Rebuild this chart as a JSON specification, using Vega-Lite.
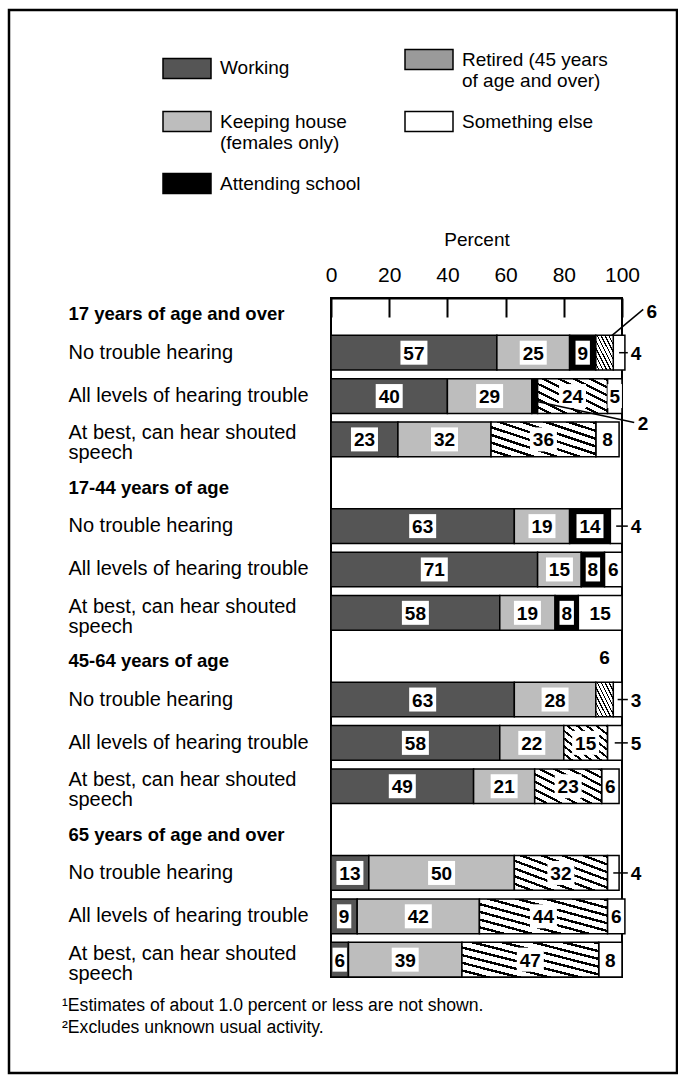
{
  "$schema": "https://vega.github.io/schema/vega-lite/v6.json",
  "width": 668,
  "height": 1063,
  "autosize": "none",
  "padding": {"left": 9, "top": 10, "right": 1, "bottom": 3},
  "background": "white",
  "view": {"stroke": "black", "strokeWidth": 2.5, "fill": "white"},
  "config": {"font": "Liberation Sans"},
  "title": {
    "text": ["¹Estimates of about 1.0 percent or less are not shown.", "²Excludes unknown usual activity."],
    "orient": "bottom", "anchor": "start", "frame": "group", "offset": -76, "dx": 53,
    "fontSize": 17.6, "fontWeight": "normal", "lineHeight": 22, "baseline": "top", "color": "black"
  },
  "resolve": {"scale": {"y": "independent"}},
  "layer": [
    {
      "data": {"values": [{}]},
      "mark": {"type": "rect", "filled": false, "stroke": "black", "strokeWidth": 2},
      "encoding": {
        "x": {"datum": 0, "type": "quantitative"},
        "x2": {"datum": 100},
        "y": {"datum": 0, "type": "quantitative", "scale": {"domain": [0, 1], "range": [288, 967], "nice": false, "zero": false}, "axis": null},
        "y2": {"datum": 1}
      }
    },
    {
      "data": {"values": [
        {"row": "17+ | No trouble hearing", "activity": "Working", "value": 57, "inside": true},
        {"row": "17+ | No trouble hearing", "activity": "Keeping house (females only)", "value": 25, "inside": true},
        {"row": "17+ | No trouble hearing", "activity": "Attending school", "value": 9, "inside": true},
        {"row": "17+ | No trouble hearing", "activity": "Retired (45 years of age and over)", "value": 6, "inside": false},
        {"row": "17+ | No trouble hearing", "activity": "Something else", "value": 4, "inside": false},
        {"row": "17+ | All levels of hearing trouble", "activity": "Working", "value": 40, "inside": true},
        {"row": "17+ | All levels of hearing trouble", "activity": "Keeping house (females only)", "value": 29, "inside": true},
        {"row": "17+ | All levels of hearing trouble", "activity": "Attending school", "value": 2, "inside": false},
        {"row": "17+ | All levels of hearing trouble", "activity": "Retired (45 years of age and over)", "value": 24, "inside": true},
        {"row": "17+ | All levels of hearing trouble", "activity": "Something else", "value": 5, "inside": true},
        {"row": "17+ | At best, can hear shouted speech", "activity": "Working", "value": 23, "inside": true},
        {"row": "17+ | At best, can hear shouted speech", "activity": "Keeping house (females only)", "value": 32, "inside": true},
        {"row": "17+ | At best, can hear shouted speech", "activity": "Retired (45 years of age and over)", "value": 36, "inside": true},
        {"row": "17+ | At best, can hear shouted speech", "activity": "Something else", "value": 8, "inside": true},
        {"row": "17-44 | No trouble hearing", "activity": "Working", "value": 63, "inside": true},
        {"row": "17-44 | No trouble hearing", "activity": "Keeping house (females only)", "value": 19, "inside": true},
        {"row": "17-44 | No trouble hearing", "activity": "Attending school", "value": 14, "inside": true},
        {"row": "17-44 | No trouble hearing", "activity": "Something else", "value": 4, "inside": false},
        {"row": "17-44 | All levels of hearing trouble", "activity": "Working", "value": 71, "inside": true},
        {"row": "17-44 | All levels of hearing trouble", "activity": "Keeping house (females only)", "value": 15, "inside": true},
        {"row": "17-44 | All levels of hearing trouble", "activity": "Attending school", "value": 8, "inside": true},
        {"row": "17-44 | All levels of hearing trouble", "activity": "Something else", "value": 6, "inside": true},
        {"row": "17-44 | At best, can hear shouted speech", "activity": "Working", "value": 58, "inside": true},
        {"row": "17-44 | At best, can hear shouted speech", "activity": "Keeping house (females only)", "value": 19, "inside": true},
        {"row": "17-44 | At best, can hear shouted speech", "activity": "Attending school", "value": 8, "inside": true},
        {"row": "17-44 | At best, can hear shouted speech", "activity": "Something else", "value": 15, "inside": true},
        {"row": "45-64 | No trouble hearing", "activity": "Working", "value": 63, "inside": true},
        {"row": "45-64 | No trouble hearing", "activity": "Keeping house (females only)", "value": 28, "inside": true},
        {"row": "45-64 | No trouble hearing", "activity": "Retired (45 years of age and over)", "value": 6, "inside": false},
        {"row": "45-64 | No trouble hearing", "activity": "Something else", "value": 3, "inside": false},
        {"row": "45-64 | All levels of hearing trouble", "activity": "Working", "value": 58, "inside": true},
        {"row": "45-64 | All levels of hearing trouble", "activity": "Keeping house (females only)", "value": 22, "inside": true},
        {"row": "45-64 | All levels of hearing trouble", "activity": "Retired (45 years of age and over)", "value": 15, "inside": true},
        {"row": "45-64 | All levels of hearing trouble", "activity": "Something else", "value": 5, "inside": false},
        {"row": "45-64 | At best, can hear shouted speech", "activity": "Working", "value": 49, "inside": true},
        {"row": "45-64 | At best, can hear shouted speech", "activity": "Keeping house (females only)", "value": 21, "inside": true},
        {"row": "45-64 | At best, can hear shouted speech", "activity": "Retired (45 years of age and over)", "value": 23, "inside": true},
        {"row": "45-64 | At best, can hear shouted speech", "activity": "Something else", "value": 6, "inside": true},
        {"row": "65+ | No trouble hearing", "activity": "Working", "value": 13, "inside": true},
        {"row": "65+ | No trouble hearing", "activity": "Keeping house (females only)", "value": 50, "inside": true},
        {"row": "65+ | No trouble hearing", "activity": "Retired (45 years of age and over)", "value": 32, "inside": true},
        {"row": "65+ | No trouble hearing", "activity": "Something else", "value": 4, "inside": false},
        {"row": "65+ | All levels of hearing trouble", "activity": "Working", "value": 9, "inside": true},
        {"row": "65+ | All levels of hearing trouble", "activity": "Keeping house (females only)", "value": 42, "inside": true},
        {"row": "65+ | All levels of hearing trouble", "activity": "Retired (45 years of age and over)", "value": 44, "inside": true},
        {"row": "65+ | All levels of hearing trouble", "activity": "Something else", "value": 6, "inside": true},
        {"row": "65+ | At best, can hear shouted speech", "activity": "Working", "value": 6, "inside": true},
        {"row": "65+ | At best, can hear shouted speech", "activity": "Keeping house (females only)", "value": 39, "inside": true},
        {"row": "65+ | At best, can hear shouted speech", "activity": "Retired (45 years of age and over)", "value": 47, "inside": true},
        {"row": "65+ | At best, can hear shouted speech", "activity": "Something else", "value": 8, "inside": true}
      ]},
      "transform": [
        {"calculate": "indexof(['Working','Keeping house (females only)','Attending school','Retired (45 years of age and over)','Something else'], datum.activity)", "as": "ord"},
        {"stack": "value", "groupby": ["row"], "sort": [{"field": "ord", "order": "ascending"}], "as": ["x0", "x1"]},
        {"calculate": "(datum.x0 + datum.x1) / 2", "as": "mid"}
      ],
      "encoding": {
        "y": {
          "field": "row", "type": "nominal",
          "scale": {
            "domain": [
              "17 years of age and over",
              "17+ | No trouble hearing",
              "17+ | All levels of hearing trouble",
              "17+ | At best, can hear shouted speech",
              "17-44 years of age",
              "17-44 | No trouble hearing",
              "17-44 | All levels of hearing trouble",
              "17-44 | At best, can hear shouted speech",
              "45-64 years of age",
              "45-64 | No trouble hearing",
              "45-64 | All levels of hearing trouble",
              "45-64 | At best, can hear shouted speech",
              "65 years of age and over",
              "65+ | No trouble hearing",
              "65+ | All levels of hearing trouble",
              "65+ | At best, can hear shouted speech"
            ],
            "range": [282, 967], "paddingInner": 0.2, "paddingOuter": 0
          },
          "axis": {
            "orient": "left", "offset": -322, "domain": false, "ticks": false, "tickSize": 0, "grid": false,
            "title": null, "labelAlign": "left", "labelPadding": 263,
            "labelColor": "black", "labelLimit": 400, "labelLineHeight": 20, "labelOverlap": false,
            "labelExpr": "indexof(datum.value, ' | ') < 0 ? datum.value : indexof(datum.value, 'At best') >= 0 ? ['\u2003At best, can hear shouted', '\u2003speech'] : substring(datum.value, indexof(datum.value, ' | ') + 3)",
            "labelFontWeight": {"condition": {"test": "indexof(datum.value, ' | ') < 0", "value": "bold"}, "value": "normal"},
            "labelFontSize": {"condition": {"test": "indexof(datum.value, ' | ') < 0", "value": 18.5}, "value": 20},
            "labelOffset": {"condition": {"test": "indexof(datum.value, ' | ') < 0", "value": 5}, "value": 0},
            "labelBaseline": {"condition": {"test": "indexof(datum.value, 'At best') >= 0", "value": "alphabetic"}, "value": "middle"}
          }
        }
      },
      "layer": [
        {
          "transform": [{"filter": "datum.activity != 'Retired (45 years of age and over)'"}],
          "mark": {"type": "bar", "stroke": "black", "strokeWidth": 1.5},
          "encoding": {
            "x": {
              "field": "x0", "type": "quantitative",
              "scale": {"domain": [0, 100], "range": [322, 613], "nice": false, "zero": false},
              "axis": {
                "orient": "top", "offset": -288, "values": [0, 20, 40, 60, 80, 100],
                "domain": true, "domainColor": "black", "domainWidth": 2,
                "ticks": true, "tickSize": -19, "tickWidth": 2, "tickColor": "black",
                "labelFontSize": 21, "labelColor": "black", "labelPadding": 32, "labelFlush": false, "labelAngle": 0,
                "grid": false, "title": "Percent", "titleFontSize": 19, "titleFontWeight": "normal", "titleColor": "black", "titlePadding": 15
              }
            },
            "x2": {"field": "x1"},
            "color": {
              "field": "activity", "type": "nominal",
              "scale": {
                "domain": ["Working", "Keeping house (females only)", "Attending school", "Retired (45 years of age and over)", "Something else"],
                "range": ["#555555", "#bdbdbd", "black", "#9a9a9a", "white"]
              },
              "legend": {
                "orient": "none", "legendX": 153, "legendY": 24.5, "title": null, "columns": 2,
                "columnPadding": 41, "rowPadding": 6, "padding": 0,
                "symbolType": "M-1,-0.417H1V0.417H-1Z", "symbolSize": 2304,
                "symbolOpacity": 1,
                "labelFontSize": 19, "labelColor": "black", "labelOffset": 8, "labelLimit": 300, "labelLineHeight": 22,
                "labelExpr": "datum.label == 'Keeping house (females only)' ? ['Keeping house', '(females only)'] : datum.label == 'Retired (45 years of age and over)' ? ['Retired (45 years', 'of age and over)'] : datum.label",
                "encode": {
                  "symbols": {
                    "stroke": {"value": "black"},
                    "strokeWidth": {"value": 1.5}
                  }
                }
              }
            }
          }
        },
        {
          "transform": [{"filter": "datum.activity == 'Retired (45 years of age and over)'"}],
          "mark": {
            "type": "bar", "stroke": "black", "strokeWidth": 1.5,
            "fill": {"gradient": "linear", "x1": 0, "y1": 1, "x2": 1, "y2": 0, "stops": [
              {"offset": 0, "color": "white"}, {"offset": 0.0756, "color": "white"}, {"offset": 0.0756, "color": "black"}, {"offset": 0.1111, "color": "black"},
              {"offset": 0.1111, "color": "white"}, {"offset": 0.1867, "color": "white"}, {"offset": 0.1867, "color": "black"}, {"offset": 0.2222, "color": "black"},
              {"offset": 0.2222, "color": "white"}, {"offset": 0.2978, "color": "white"}, {"offset": 0.2978, "color": "black"}, {"offset": 0.3333, "color": "black"},
              {"offset": 0.3333, "color": "white"}, {"offset": 0.4089, "color": "white"}, {"offset": 0.4089, "color": "black"}, {"offset": 0.4444, "color": "black"},
              {"offset": 0.4444, "color": "white"}, {"offset": 0.52, "color": "white"}, {"offset": 0.52, "color": "black"}, {"offset": 0.5556, "color": "black"},
              {"offset": 0.5556, "color": "white"}, {"offset": 0.6311, "color": "white"}, {"offset": 0.6311, "color": "black"}, {"offset": 0.6667, "color": "black"},
              {"offset": 0.6667, "color": "white"}, {"offset": 0.7422, "color": "white"}, {"offset": 0.7422, "color": "black"}, {"offset": 0.7778, "color": "black"},
              {"offset": 0.7778, "color": "white"}, {"offset": 0.8533, "color": "white"}, {"offset": 0.8533, "color": "black"}, {"offset": 0.8889, "color": "black"},
              {"offset": 0.8889, "color": "white"}, {"offset": 0.9644, "color": "white"}, {"offset": 0.9644, "color": "black"}, {"offset": 1, "color": "black"}
            ]}
          },
          "encoding": {"x": {"field": "x0", "type": "quantitative"}, "x2": {"field": "x1"}}
        },
        {
          "transform": [{"filter": "datum.inside && datum.value >= 10"}],
          "mark": {"type": "point", "shape": "M-1.125,-1H1.125V1H-1.125Z", "filled": true, "color": "white", "opacity": 1, "size": 576, "strokeWidth": 0},
          "encoding": {"x": {"field": "mid", "type": "quantitative"}}
        },
        {
          "transform": [{"filter": "datum.inside && datum.value < 10"}],
          "mark": {"type": "point", "shape": "M-0.6,-1H0.6V1H-0.6Z", "filled": true, "color": "white", "opacity": 1, "size": 576, "strokeWidth": 0},
          "encoding": {"x": {"field": "mid", "type": "quantitative"}}
        },
        {
          "transform": [{"filter": "datum.inside"}],
          "mark": {"type": "text", "fontSize": 19, "fontWeight": "bold", "color": "black", "align": "center", "baseline": "middle", "dy": 1},
          "encoding": {"x": {"field": "mid", "type": "quantitative"}, "text": {"field": "value", "type": "quantitative"}}
        },
        {
          "transform": [{"filter": "!datum.inside && datum.activity == 'Something else'"}],
          "mark": {"type": "rule", "color": "black", "strokeWidth": 1.5},
          "encoding": {"x": {"field": "mid", "type": "quantitative"}, "x2": {"datum": 102.0}}
        },
        {
          "transform": [{"filter": "!datum.inside && datum.activity == 'Something else'"}],
          "mark": {"type": "text", "fontSize": 19, "fontWeight": "bold", "color": "black", "align": "left", "baseline": "middle", "dy": 1},
          "encoding": {"x": {"datum": 103.0, "type": "quantitative"}, "text": {"field": "value", "type": "quantitative"}}
        },
        {
          "data": {"values": [{}]},
          "mark": {"type": "rule", "color": "black", "strokeWidth": 1.5, "yOffset": -17},
          "encoding": {
            "x": {"datum": 96.5, "type": "quantitative"}, "x2": {"datum": 107.3},
            "y": {"datum": "17+ | No trouble hearing", "type": "nominal"}, "y2": {"datum": "17 years of age and over"}
          }
        },
        {
          "data": {"values": [{}]},
          "mark": {"type": "text", "fontSize": 19, "fontWeight": "bold", "color": "black", "align": "center", "baseline": "middle", "dy": 3},
          "encoding": {
            "x": {"datum": 110.2, "type": "quantitative"},
            "y": {"datum": "17 years of age and over", "type": "nominal"},
            "text": {"value": "6"}
          }
        },
        {
          "data": {"values": [{}]},
          "mark": {"type": "rule", "color": "black", "strokeWidth": 1.5, "yOffset": 5, "y2Offset": -17},
          "encoding": {
            "x": {"datum": 70, "type": "quantitative"}, "x2": {"datum": 104.2},
            "y": {"datum": "17+ | All levels of hearing trouble", "type": "nominal"}, "y2": {"datum": "17+ | At best, can hear shouted speech"}
          }
        },
        {
          "data": {"values": [{}]},
          "mark": {"type": "text", "fontSize": 19, "fontWeight": "bold", "color": "black", "align": "center", "baseline": "middle", "dy": -15},
          "encoding": {
            "x": {"datum": 107.2, "type": "quantitative"},
            "y": {"datum": "17+ | At best, can hear shouted speech", "type": "nominal"},
            "text": {"value": "2"}
          }
        },
        {
          "data": {"values": [{}]},
          "mark": {"type": "text", "fontSize": 19, "fontWeight": "bold", "color": "black", "align": "center", "baseline": "middle", "dy": 2},
          "encoding": {
            "x": {"datum": 94, "type": "quantitative"},
            "y": {"datum": "45-64 years of age", "type": "nominal"},
            "text": {"value": "6"}
          }
        }
      ]
    }
  ]
}
